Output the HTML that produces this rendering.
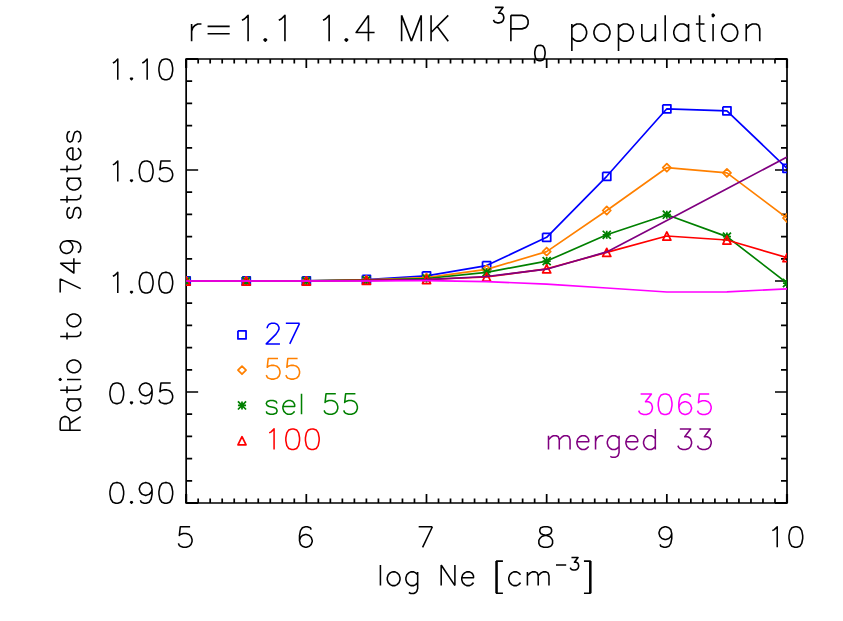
<!DOCTYPE html>
<html><head><meta charset="utf-8"><title>plot</title>
<style>html,body{margin:0;padding:0;background:#fff;font-family:"Liberation Sans",sans-serif;}svg{display:block}</style>
</head><body>
<svg width="843" height="621" viewBox="0 0 843 621" fill="none" stroke-linecap="butt" stroke-linejoin="round">
<rect x="0" y="0" width="843" height="621" fill="#fff" stroke="none"/>
<path d="M186.15 59 H787 V503 H186.15 Z M186.15 503 v-8.9 M186.15 59 v8.9 M198.17 503 v-4.45 M198.17 59 v4.45 M210.18 503 v-4.45 M210.18 59 v4.45 M222.2 503 v-4.45 M222.2 59 v4.45 M234.22 503 v-4.45 M234.22 59 v4.45 M246.24 503 v-4.45 M246.24 59 v4.45 M258.25 503 v-4.45 M258.25 59 v4.45 M270.27 503 v-4.45 M270.27 59 v4.45 M282.29 503 v-4.45 M282.29 59 v4.45 M294.3 503 v-4.45 M294.3 59 v4.45 M306.32 503 v-8.9 M306.32 59 v8.9 M318.34 503 v-4.45 M318.34 59 v4.45 M330.35 503 v-4.45 M330.35 59 v4.45 M342.37 503 v-4.45 M342.37 59 v4.45 M354.39 503 v-4.45 M354.39 59 v4.45 M366.4 503 v-4.45 M366.4 59 v4.45 M378.42 503 v-4.45 M378.42 59 v4.45 M390.44 503 v-4.45 M390.44 59 v4.45 M402.46 503 v-4.45 M402.46 59 v4.45 M414.47 503 v-4.45 M414.47 59 v4.45 M426.49 503 v-8.9 M426.49 59 v8.9 M438.51 503 v-4.45 M438.51 59 v4.45 M450.52 503 v-4.45 M450.52 59 v4.45 M462.54 503 v-4.45 M462.54 59 v4.45 M474.56 503 v-4.45 M474.56 59 v4.45 M486.58 503 v-4.45 M486.58 59 v4.45 M498.59 503 v-4.45 M498.59 59 v4.45 M510.61 503 v-4.45 M510.61 59 v4.45 M522.63 503 v-4.45 M522.63 59 v4.45 M534.64 503 v-4.45 M534.64 59 v4.45 M546.66 503 v-8.9 M546.66 59 v8.9 M558.68 503 v-4.45 M558.68 59 v4.45 M570.69 503 v-4.45 M570.69 59 v4.45 M582.71 503 v-4.45 M582.71 59 v4.45 M594.73 503 v-4.45 M594.73 59 v4.45 M606.75 503 v-4.45 M606.75 59 v4.45 M618.76 503 v-4.45 M618.76 59 v4.45 M630.78 503 v-4.45 M630.78 59 v4.45 M642.8 503 v-4.45 M642.8 59 v4.45 M654.81 503 v-4.45 M654.81 59 v4.45 M666.83 503 v-8.9 M666.83 59 v8.9 M678.85 503 v-4.45 M678.85 59 v4.45 M690.86 503 v-4.45 M690.86 59 v4.45 M702.88 503 v-4.45 M702.88 59 v4.45 M714.9 503 v-4.45 M714.9 59 v4.45 M726.91 503 v-4.45 M726.91 59 v4.45 M738.93 503 v-4.45 M738.93 59 v4.45 M750.95 503 v-4.45 M750.95 59 v4.45 M762.97 503 v-4.45 M762.97 59 v4.45 M774.98 503 v-4.45 M774.98 59 v4.45 M787 503 v-8.9 M787 59 v8.9 M186.15 503 h12 M787 503 h-12 M186.15 480.8 h6 M787 480.8 h-6 M186.15 458.6 h6 M787 458.6 h-6 M186.15 436.4 h6 M787 436.4 h-6 M186.15 414.2 h6 M787 414.2 h-6 M186.15 392 h12 M787 392 h-12 M186.15 369.8 h6 M787 369.8 h-6 M186.15 347.6 h6 M787 347.6 h-6 M186.15 325.4 h6 M787 325.4 h-6 M186.15 303.2 h6 M787 303.2 h-6 M186.15 281 h12 M787 281 h-12 M186.15 258.8 h6 M787 258.8 h-6 M186.15 236.6 h6 M787 236.6 h-6 M186.15 214.4 h6 M787 214.4 h-6 M186.15 192.2 h6 M787 192.2 h-6 M186.15 170 h12 M787 170 h-12 M186.15 147.8 h6 M787 147.8 h-6 M186.15 125.6 h6 M787 125.6 h-6 M186.15 103.4 h6 M787 103.4 h-6 M186.15 81.2 h6 M787 81.2 h-6 M186.15 59 h12 M787 59 h-12" stroke="#000" stroke-width="1.72" stroke-linejoin="miter"/>
<path d="M186.15 503 v-8.9 M186.15 59 v8.9 M787 503 v-8.9 M787 59 v8.9 M186.15 59 h12 M787 59 h-12 M186.15 503 h12 M787 503 h-12" stroke="#000" stroke-width="2.17"/>
<clipPath id="c"><rect x="186.15" y="59" width="600.85" height="444"/></clipPath>
<g clip-path="url(#c)">
<polyline points="186.15,281 246.24,281 306.32,280.8 366.41,279.5 426.49,275.8 486.58,265.6 546.66,237.3 606.75,176.3 666.83,108.8 726.92,110.8 787,168.3" stroke="#0000ff" stroke-width="1.68"/>
<path d="M182.1 276.95 H190.2 V285.05 H182.1 V276.95 M242.19 276.95 H250.29 V285.05 H242.19 V276.95 M302.27 276.75 H310.37 V284.85 H302.27 V276.75 M362.36 275.45 H370.46 V283.55 H362.36 V275.45 M422.44 271.75 H430.54 V279.85 H422.44 V271.75 M482.53 261.55 H490.63 V269.65 H482.53 V261.55 M542.61 233.25 H550.71 V241.35 H542.61 V233.25 M602.7 172.25 H610.79 V180.35 H602.7 V172.25 M662.78 104.75 H670.88 V112.85 H662.78 V104.75 M722.87 106.75 H730.97 V114.85 H722.87 V106.75 M782.95 164.25 H791.05 V172.35 H782.95 V164.25" stroke="#0000ff" stroke-width="1.75"/>
<polyline points="186.15,281 246.24,281 306.32,280.9 366.41,279.9 426.49,277.6 486.58,269.4 546.66,251.6 606.75,210.5 666.83,167.7 726.92,172.9 787,218" stroke="#ff8000" stroke-width="1.68"/>
<path d="M182.1 281 L186.15 276.95 L190.2 281 L186.15 285.05 Z M242.19 281 L246.24 276.95 L250.29 281 L246.24 285.05 Z M302.27 280.9 L306.32 276.85 L310.37 280.9 L306.32 284.95 Z M362.36 279.9 L366.41 275.85 L370.46 279.9 L366.41 283.95 Z M422.44 277.6 L426.49 273.55 L430.54 277.6 L426.49 281.65 Z M482.53 269.4 L486.58 265.35 L490.63 269.4 L486.58 273.45 Z M542.61 251.6 L546.66 247.55 L550.71 251.6 L546.66 255.65 Z M602.7 210.5 L606.75 206.45 L610.79 210.5 L606.75 214.55 Z M662.78 167.7 L666.83 163.65 L670.88 167.7 L666.83 171.75 Z M722.87 172.9 L726.92 168.85 L730.97 172.9 L726.92 176.95 Z M782.95 218 L787 213.95 L791.05 218 L787 222.05 Z" stroke="#ff8000" stroke-width="1.75"/>
<polyline points="186.15,281 246.24,281 306.32,280.9 366.41,280.1 426.49,278.5 486.58,272.3 546.66,261.1 606.75,234.8 666.83,214.7 726.92,236.6 787,283" stroke="#008000" stroke-width="1.68"/>
<path d="M182.1 281 H190.2 M186.15 276.95 V285.05 M182.1 276.95 L190.2 285.05 M182.1 285.05 L190.2 276.95 M242.19 281 H250.29 M246.24 276.95 V285.05 M242.19 276.95 L250.29 285.05 M242.19 285.05 L250.29 276.95 M302.27 280.9 H310.37 M306.32 276.85 V284.95 M302.27 276.85 L310.37 284.95 M302.27 284.95 L310.37 276.85 M362.36 280.1 H370.46 M366.41 276.05 V284.15 M362.36 276.05 L370.46 284.15 M362.36 284.15 L370.46 276.05 M422.44 278.5 H430.54 M426.49 274.45 V282.55 M422.44 274.45 L430.54 282.55 M422.44 282.55 L430.54 274.45 M482.53 272.3 H490.63 M486.58 268.25 V276.35 M482.53 268.25 L490.63 276.35 M482.53 276.35 L490.63 268.25 M542.61 261.1 H550.71 M546.66 257.05 V265.15 M542.61 257.05 L550.71 265.15 M542.61 265.15 L550.71 257.05 M602.7 234.8 H610.79 M606.75 230.75 V238.85 M602.7 230.75 L610.79 238.85 M602.7 238.85 L610.79 230.75 M662.78 214.7 H670.88 M666.83 210.65 V218.75 M662.78 210.65 L670.88 218.75 M662.78 218.75 L670.88 210.65 M722.87 236.6 H730.97 M726.92 232.55 V240.65 M722.87 232.55 L730.97 240.65 M722.87 240.65 L730.97 232.55 M782.95 283 H791.05 M787 278.95 V287.05 M782.95 278.95 L791.05 287.05 M782.95 287.05 L791.05 278.95" stroke="#008000" stroke-width="1.75"/>
<polyline points="186.15,281 246.24,281 306.32,281 366.41,280.4 426.49,279.5 486.58,277 546.66,268.8 606.75,252.4 666.83,236 726.92,240 787,257.6" stroke="#ff0000" stroke-width="1.68"/>
<path d="M182.1 285.05 L186.15 276.95 L190.2 285.05 Z M242.19 285.05 L246.24 276.95 L250.29 285.05 Z M302.27 285.05 L306.32 276.95 L310.37 285.05 Z M362.36 284.45 L366.41 276.35 L370.46 284.45 Z M422.44 283.55 L426.49 275.45 L430.54 283.55 Z M482.53 281.05 L486.58 272.95 L490.63 281.05 Z M542.61 272.85 L546.66 264.75 L550.71 272.85 Z M602.7 256.45 L606.75 248.35 L610.79 256.45 Z M662.78 240.05 L666.83 231.95 L670.88 240.05 Z M722.87 244.05 L726.92 235.95 L730.97 244.05 Z M782.95 261.65 L787 253.55 L791.05 261.65 Z" stroke="#ff0000" stroke-width="1.75"/>
<polyline points="186.15,281 246.24,281 306.32,281 366.41,280.6 426.49,279.6 486.58,276.5 546.66,269.2 606.75,251.9 666.83,220.6 726.92,188.8 787,157" stroke="#800080" stroke-width="1.68"/>
<polyline points="186.15,281 246.24,281 306.32,281 366.41,281 426.49,280.7 486.58,281.6 546.66,284.1 606.75,288 666.83,292 726.92,291.8 787,288.9" stroke="#ff00ff" stroke-width="1.68"/>
</g>
<path d="M267.22 328.22 L267.22 327.24 L268.2 325.28 L269.18 324.3 L271.14 323.32 L275.06 323.32 L277.02 324.3 L278 325.28 L278.98 327.24 L278.98 329.2 L278 331.16 L276.04 334.1 L266.24 343.9 L279.96 343.9 M299.56 323.32 L289.76 343.9 M285.84 323.32 L299.56 323.32" stroke="#0000ff" stroke-width="1.55"/>
<path d="M237.95 330.8 H246.05 V338.9 H237.95 V330.8" stroke="#0000ff" stroke-width="1.75"/>
<path d="M278 358.52 L268.2 358.52 L267.22 367.34 L268.2 366.36 L271.14 365.38 L274.08 365.38 L277.02 366.36 L278.98 368.32 L279.96 371.26 L279.96 373.22 L278.98 376.16 L277.02 378.12 L274.08 379.1 L271.14 379.1 L268.2 378.12 L267.22 377.14 L266.24 375.18 M297.6 358.52 L287.8 358.52 L286.82 367.34 L287.8 366.36 L290.74 365.38 L293.68 365.38 L296.62 366.36 L298.58 368.32 L299.56 371.26 L299.56 373.22 L298.58 376.16 L296.62 378.12 L293.68 379.1 L290.74 379.1 L287.8 378.12 L286.82 377.14 L285.84 375.18" stroke="#ff8000" stroke-width="1.55"/>
<path d="M237.95 370.15 L242 366.1 L246.05 370.15 L242 374.2 Z" stroke="#ff8000" stroke-width="1.75"/>
<path d="M277.02 403.52 L276.04 401.56 L273.1 400.58 L270.16 400.58 L267.22 401.56 L266.24 403.52 L267.22 405.48 L269.18 406.46 L274.08 407.44 L276.04 408.42 L277.02 410.38 L277.02 411.36 L276.04 413.32 L273.1 414.3 L270.16 414.3 L267.22 413.32 L266.24 411.36 M282.9 406.46 L294.66 406.46 L294.66 404.5 L293.68 402.54 L292.7 401.56 L290.74 400.58 L287.8 400.58 L285.84 401.56 L283.88 403.52 L282.9 406.46 L282.9 408.42 L283.88 411.36 L285.84 413.32 L287.8 414.3 L290.74 414.3 L292.7 413.32 L294.66 411.36 M301.52 393.72 L301.52 414.3 M335.82 393.72 L326.02 393.72 L325.04 402.54 L326.02 401.56 L328.96 400.58 L331.9 400.58 L334.84 401.56 L336.8 403.52 L337.78 406.46 L337.78 408.42 L336.8 411.36 L334.84 413.32 L331.9 414.3 L328.96 414.3 L326.02 413.32 L325.04 412.34 L324.06 410.38 M355.42 393.72 L345.62 393.72 L344.64 402.54 L345.62 401.56 L348.56 400.58 L351.5 400.58 L354.44 401.56 L356.4 403.52 L357.38 406.46 L357.38 408.42 L356.4 411.36 L354.44 413.32 L351.5 414.3 L348.56 414.3 L345.62 413.32 L344.64 412.34 L343.66 410.38" stroke="#008000" stroke-width="1.55"/>
<path d="M237.95 405.45 H246.05 M242 401.4 V409.5 M237.95 401.4 L246.05 409.5 M237.95 409.5 L246.05 401.4" stroke="#008000" stroke-width="1.75"/>
<path d="M269.18 432.84 L271.14 431.86 L274.08 428.92 L274.08 449.5 M291.72 428.92 L288.78 429.9 L286.82 432.84 L285.84 437.74 L285.84 440.68 L286.82 445.58 L288.78 448.52 L291.72 449.5 L293.68 449.5 L296.62 448.52 L298.58 445.58 L299.56 440.68 L299.56 437.74 L298.58 432.84 L296.62 429.9 L293.68 428.92 L291.72 428.92 M311.32 428.92 L308.38 429.9 L306.42 432.84 L305.44 437.74 L305.44 440.68 L306.42 445.58 L308.38 448.52 L311.32 449.5 L313.28 449.5 L316.22 448.52 L318.18 445.58 L319.16 440.68 L319.16 437.74 L318.18 432.84 L316.22 429.9 L313.28 428.92 L311.32 428.92" stroke="#ff0000" stroke-width="1.55"/>
<path d="M237.95 444.8 L242 436.7 L246.05 444.8 Z" stroke="#ff0000" stroke-width="1.75"/>
<path d="M640.62 393.92 L651.4 393.92 L645.52 401.76 L648.46 401.76 L650.42 402.74 L651.4 403.72 L652.38 406.66 L652.38 408.62 L651.4 411.56 L649.44 413.52 L646.5 414.5 L643.56 414.5 L640.62 413.52 L639.64 412.54 L638.66 410.58 M664.14 393.92 L661.2 394.9 L659.24 397.84 L658.26 402.74 L658.26 405.68 L659.24 410.58 L661.2 413.52 L664.14 414.5 L666.1 414.5 L669.04 413.52 L671 410.58 L671.98 405.68 L671.98 402.74 L671 397.84 L669.04 394.9 L666.1 393.92 L664.14 393.92 M690.6 396.86 L689.62 394.9 L686.68 393.92 L684.72 393.92 L681.78 394.9 L679.82 397.84 L678.84 402.74 L678.84 407.64 L679.82 411.56 L681.78 413.52 L684.72 414.5 L685.7 414.5 L688.64 413.52 L690.6 411.56 L691.58 408.62 L691.58 407.64 L690.6 404.7 L688.64 402.74 L685.7 401.76 L684.72 401.76 L681.78 402.74 L679.82 404.7 L678.84 407.64 M709.22 393.92 L699.42 393.92 L698.44 402.74 L699.42 401.76 L702.36 400.78 L705.3 400.78 L708.24 401.76 L710.2 403.72 L711.18 406.66 L711.18 408.62 L710.2 411.56 L708.24 413.52 L705.3 414.5 L702.36 414.5 L699.42 413.52 L698.44 412.54 L697.46 410.58" stroke="#ff00ff" stroke-width="1.55"/>
<path d="M548.5 435.78 L548.5 449.5 M548.5 439.7 L551.44 436.76 L553.4 435.78 L556.34 435.78 L558.3 436.76 L559.28 439.7 L559.28 449.5 M559.28 439.7 L562.22 436.76 L564.18 435.78 L567.12 435.78 L569.08 436.76 L570.06 439.7 L570.06 449.5 M576.92 441.66 L588.68 441.66 L588.68 439.7 L587.7 437.74 L586.72 436.76 L584.76 435.78 L581.82 435.78 L579.86 436.76 L577.9 438.72 L576.92 441.66 L576.92 443.62 L577.9 446.56 L579.86 448.52 L581.82 449.5 L584.76 449.5 L586.72 448.52 L588.68 446.56 M595.54 435.78 L595.54 449.5 M595.54 441.66 L596.52 438.72 L598.48 436.76 L600.44 435.78 L603.38 435.78 M619.06 435.78 L619.06 452.44 L618.08 455.38 L617.1 456.36 L615.14 457.34 L612.2 457.34 L610.24 456.36 M619.06 438.72 L617.1 436.76 L615.14 435.78 L612.2 435.78 L610.24 436.76 L608.28 438.72 L607.3 441.66 L607.3 443.62 L608.28 446.56 L610.24 448.52 L612.2 449.5 L615.14 449.5 L617.1 448.52 L619.06 446.56 M625.92 441.66 L637.68 441.66 L637.68 439.7 L636.7 437.74 L635.72 436.76 L633.76 435.78 L630.82 435.78 L628.86 436.76 L626.9 438.72 L625.92 441.66 L625.92 443.62 L626.9 446.56 L628.86 448.52 L630.82 449.5 L633.76 449.5 L635.72 448.52 L637.68 446.56 M655.32 428.92 L655.32 449.5 M655.32 438.72 L653.36 436.76 L651.4 435.78 L648.46 435.78 L646.5 436.76 L644.54 438.72 L643.56 441.66 L643.56 443.62 L644.54 446.56 L646.5 448.52 L648.46 449.5 L651.4 449.5 L653.36 448.52 L655.32 446.56 M679.82 428.92 L690.6 428.92 L684.72 436.76 L687.66 436.76 L689.62 437.74 L690.6 438.72 L691.58 441.66 L691.58 443.62 L690.6 446.56 L688.64 448.52 L685.7 449.5 L682.76 449.5 L679.82 448.52 L678.84 447.54 L677.86 445.58 M699.42 428.92 L710.2 428.92 L704.32 436.76 L707.26 436.76 L709.22 437.74 L710.2 438.72 L711.18 441.66 L711.18 443.62 L710.2 446.56 L708.24 448.52 L705.3 449.5 L702.36 449.5 L699.42 448.52 L698.44 447.54 L697.46 445.58" stroke="#800080" stroke-width="1.55"/>
<path d="M112.88 62.99 L114.84 62.01 L117.78 59.07 L117.78 79.65 M131.5 77.69 L130.52 78.67 L131.5 79.65 L132.48 78.67 L131.5 77.69 M142.28 62.99 L144.24 62.01 L147.18 59.07 L147.18 79.65 M164.82 59.07 L161.88 60.05 L159.92 62.99 L158.94 67.89 L158.94 70.83 L159.92 75.73 L161.88 78.67 L164.82 79.65 L166.78 79.65 L169.72 78.67 L171.68 75.73 L172.66 70.83 L172.66 67.89 L171.68 62.99 L169.72 60.05 L166.78 59.07 L164.82 59.07" stroke="#000" stroke-width="1.55"/>
<path d="M112.88 164.89 L114.84 163.91 L117.78 160.97 L117.78 181.55 M131.5 179.59 L130.52 180.57 L131.5 181.55 L132.48 180.57 L131.5 179.59 M145.22 160.97 L142.28 161.95 L140.32 164.89 L139.34 169.79 L139.34 172.73 L140.32 177.63 L142.28 180.57 L145.22 181.55 L147.18 181.55 L150.12 180.57 L152.08 177.63 L153.06 172.73 L153.06 169.79 L152.08 164.89 L150.12 161.95 L147.18 160.97 L145.22 160.97 M170.7 160.97 L160.9 160.97 L159.92 169.79 L160.9 168.81 L163.84 167.83 L166.78 167.83 L169.72 168.81 L171.68 170.77 L172.66 173.71 L172.66 175.67 L171.68 178.61 L169.72 180.57 L166.78 181.55 L163.84 181.55 L160.9 180.57 L159.92 179.59 L158.94 177.63" stroke="#000" stroke-width="1.55"/>
<path d="M112.88 276.29 L114.84 275.31 L117.78 272.37 L117.78 292.95 M131.5 290.99 L130.52 291.97 L131.5 292.95 L132.48 291.97 L131.5 290.99 M145.22 272.37 L142.28 273.35 L140.32 276.29 L139.34 281.19 L139.34 284.13 L140.32 289.03 L142.28 291.97 L145.22 292.95 L147.18 292.95 L150.12 291.97 L152.08 289.03 L153.06 284.13 L153.06 281.19 L152.08 276.29 L150.12 273.35 L147.18 272.37 L145.22 272.37 M164.82 272.37 L161.88 273.35 L159.92 276.29 L158.94 281.19 L158.94 284.13 L159.92 289.03 L161.88 291.97 L164.82 292.95 L166.78 292.95 L169.72 291.97 L171.68 289.03 L172.66 284.13 L172.66 281.19 L171.68 276.29 L169.72 273.35 L166.78 272.37 L164.82 272.37" stroke="#000" stroke-width="1.55"/>
<path d="M115.82 383.02 L112.88 384 L110.92 386.94 L109.94 391.84 L109.94 394.78 L110.92 399.68 L112.88 402.62 L115.82 403.6 L117.78 403.6 L120.72 402.62 L122.68 399.68 L123.66 394.78 L123.66 391.84 L122.68 386.94 L120.72 384 L117.78 383.02 L115.82 383.02 M131.5 401.64 L130.52 402.62 L131.5 403.6 L132.48 402.62 L131.5 401.64 M152.08 389.88 L151.1 392.82 L149.14 394.78 L146.2 395.76 L145.22 395.76 L142.28 394.78 L140.32 392.82 L139.34 389.88 L139.34 388.9 L140.32 385.96 L142.28 384 L145.22 383.02 L146.2 383.02 L149.14 384 L151.1 385.96 L152.08 389.88 L152.08 394.78 L151.1 399.68 L149.14 402.62 L146.2 403.6 L144.24 403.6 L141.3 402.62 L140.32 400.66 M170.7 383.02 L160.9 383.02 L159.92 391.84 L160.9 390.86 L163.84 389.88 L166.78 389.88 L169.72 390.86 L171.68 392.82 L172.66 395.76 L172.66 397.72 L171.68 400.66 L169.72 402.62 L166.78 403.6 L163.84 403.6 L160.9 402.62 L159.92 401.64 L158.94 399.68" stroke="#000" stroke-width="1.55"/>
<path d="M115.82 482.62 L112.88 483.6 L110.92 486.54 L109.94 491.44 L109.94 494.38 L110.92 499.28 L112.88 502.22 L115.82 503.2 L117.78 503.2 L120.72 502.22 L122.68 499.28 L123.66 494.38 L123.66 491.44 L122.68 486.54 L120.72 483.6 L117.78 482.62 L115.82 482.62 M131.5 501.24 L130.52 502.22 L131.5 503.2 L132.48 502.22 L131.5 501.24 M152.08 489.48 L151.1 492.42 L149.14 494.38 L146.2 495.36 L145.22 495.36 L142.28 494.38 L140.32 492.42 L139.34 489.48 L139.34 488.5 L140.32 485.56 L142.28 483.6 L145.22 482.62 L146.2 482.62 L149.14 483.6 L151.1 485.56 L152.08 489.48 L152.08 494.38 L151.1 499.28 L149.14 502.22 L146.2 503.2 L144.24 503.2 L141.3 502.22 L140.32 500.26 M164.82 482.62 L161.88 483.6 L159.92 486.54 L158.94 491.44 L158.94 494.38 L159.92 499.28 L161.88 502.22 L164.82 503.2 L166.78 503.2 L169.72 502.22 L171.68 499.28 L172.66 494.38 L172.66 491.44 L171.68 486.54 L169.72 483.6 L166.78 482.62 L164.82 482.62" stroke="#000" stroke-width="1.55"/>
<path d="M190.1 526.72 L180.3 526.72 L179.32 535.54 L180.3 534.56 L183.24 533.58 L186.18 533.58 L189.12 534.56 L191.08 536.52 L192.06 539.46 L192.06 541.42 L191.08 544.36 L189.12 546.32 L186.18 547.3 L183.24 547.3 L180.3 546.32 L179.32 545.34 L178.34 543.38" stroke="#000" stroke-width="1.55"/>
<path d="M311.25 529.66 L310.27 527.7 L307.33 526.72 L305.37 526.72 L302.43 527.7 L300.47 530.64 L299.49 535.54 L299.49 540.44 L300.47 544.36 L302.43 546.32 L305.37 547.3 L306.35 547.3 L309.29 546.32 L311.25 544.36 L312.23 541.42 L312.23 540.44 L311.25 537.5 L309.29 535.54 L306.35 534.56 L305.37 534.56 L302.43 535.54 L300.47 537.5 L299.49 540.44" stroke="#000" stroke-width="1.55"/>
<path d="M432.4 526.72 L422.6 547.3 M418.68 526.72 L432.4 526.72" stroke="#000" stroke-width="1.55"/>
<path d="M543.75 526.72 L540.81 527.7 L539.83 529.66 L539.83 531.62 L540.81 533.58 L542.77 534.56 L546.69 535.54 L549.63 536.52 L551.59 538.48 L552.57 540.44 L552.57 543.38 L551.59 545.34 L550.61 546.32 L547.67 547.3 L543.75 547.3 L540.81 546.32 L539.83 545.34 L538.85 543.38 L538.85 540.44 L539.83 538.48 L541.79 536.52 L544.73 535.54 L548.65 534.56 L550.61 533.58 L551.59 531.62 L551.59 529.66 L550.61 527.7 L547.67 526.72 L543.75 526.72" stroke="#000" stroke-width="1.55"/>
<path d="M671.76 533.58 L670.78 536.52 L668.82 538.48 L665.88 539.46 L664.9 539.46 L661.96 538.48 L660 536.52 L659.02 533.58 L659.02 532.6 L660 529.66 L661.96 527.7 L664.9 526.72 L665.88 526.72 L668.82 527.7 L670.78 529.66 L671.76 533.58 L671.76 538.48 L670.78 543.38 L668.82 546.32 L665.88 547.3 L663.92 547.3 L660.98 546.32 L660 544.36" stroke="#000" stroke-width="1.55"/>
<path d="M772.33 530.64 L774.29 529.66 L777.23 526.72 L777.23 547.3 M794.87 526.72 L791.93 527.7 L789.97 530.64 L788.99 535.54 L788.99 538.48 L789.97 543.38 L791.93 546.32 L794.87 547.3 L796.83 547.3 L799.77 546.32 L801.73 543.38 L802.71 538.48 L802.71 535.54 L801.73 530.64 L799.77 527.7 L796.83 526.72 L794.87 526.72" stroke="#000" stroke-width="1.55"/>
<path d="M380.42 565.02 L380.42 585.6 M392.18 571.88 L390.22 572.86 L388.26 574.82 L387.28 577.76 L387.28 579.72 L388.26 582.66 L390.22 584.62 L392.18 585.6 L395.12 585.6 L397.08 584.62 L399.04 582.66 L400.02 579.72 L400.02 577.76 L399.04 574.82 L397.08 572.86 L395.12 571.88 L392.18 571.88 M417.66 571.88 L417.66 588.54 L416.68 591.48 L415.7 592.46 L413.74 593.44 L410.8 593.44 L408.84 592.46 M417.66 574.82 L415.7 572.86 L413.74 571.88 L410.8 571.88 L408.84 572.86 L406.88 574.82 L405.9 577.76 L405.9 579.72 L406.88 582.66 L408.84 584.62 L410.8 585.6 L413.74 585.6 L415.7 584.62 L417.66 582.66 M441.18 565.02 L441.18 585.6 M441.18 565.02 L454.9 585.6 M454.9 565.02 L454.9 585.6 M461.76 577.76 L473.52 577.76 L473.52 575.8 L472.54 573.84 L471.56 572.86 L469.6 571.88 L466.66 571.88 L464.7 572.86 L462.74 574.82 L461.76 577.76 L461.76 579.72 L462.74 582.66 L464.7 584.62 L466.66 585.6 L469.6 585.6 L471.56 584.62 L473.52 582.66 M496.06 561.1 L496.06 593.15 M497.04 561.1 L497.04 593.15 M496.06 561.1 L502.92 561.1 M496.06 593.15 L502.92 593.15 M520.56 574.82 L518.6 572.86 L516.64 571.88 L513.7 571.88 L511.74 572.86 L509.78 574.82 L508.8 577.76 L508.8 579.72 L509.78 582.66 L511.74 584.62 L513.7 585.6 L516.64 585.6 L518.6 584.62 L520.56 582.66 M527.42 571.88 L527.42 585.6 M527.42 575.8 L530.36 572.86 L532.32 571.88 L535.26 571.88 L537.22 572.86 L538.2 575.8 L538.2 585.6 M538.2 575.8 L541.14 572.86 L543.1 571.88 L546.04 571.88 L548 572.86 L548.98 575.8 L548.98 585.6 M555.96 564.9 L566.19 564.9 M571.45 557.46 L578.03 557.46 L574.44 562.25 L576.23 562.25 L577.43 562.84 L578.03 563.44 L578.62 565.24 L578.62 566.43 L578.03 568.22 L576.83 569.42 L575.04 570.02 L573.24 570.02 L571.45 569.42 L570.85 568.82 L570.26 567.63 M589.83 561.1 L589.83 593.15 M590.81 561.1 L590.81 593.15 M583.95 561.1 L590.81 561.1 M583.95 593.15 L590.81 593.15" stroke="#000" stroke-width="1.55"/>
<path d="M60.18 430.29 L80.7 430.29 M60.18 430.29 L60.18 421.5 L61.16 418.57 L62.14 417.59 L64.09 416.61 L66.05 416.61 L68 417.59 L68.98 418.57 L69.95 421.5 L69.95 430.29 M69.95 423.45 L80.7 416.61 M67.02 399.03 L80.7 399.03 M69.95 399.03 L68 400.98 L67.02 402.94 L67.02 405.87 L68 407.82 L69.95 409.78 L72.88 410.75 L74.84 410.75 L77.77 409.78 L79.72 407.82 L80.7 405.87 L80.7 402.94 L79.72 400.98 L77.77 399.03 M60.18 390.24 L76.79 390.24 L79.72 389.26 L80.7 387.3 L80.7 385.35 M67.02 393.17 L67.02 386.33 M60.18 380.47 L61.16 379.49 L60.18 378.51 L59.21 379.49 L60.18 380.47 M67.02 379.49 L80.7 379.49 M67.02 367.76 L68 369.72 L69.95 371.67 L72.88 372.65 L74.84 372.65 L77.77 371.67 L79.72 369.72 L80.7 367.76 L80.7 364.83 L79.72 362.88 L77.77 360.93 L74.84 359.95 L72.88 359.95 L69.95 360.93 L68 362.88 L67.02 364.83 L67.02 367.76 M60.18 336.5 L76.79 336.5 L79.72 335.52 L80.7 333.57 L80.7 331.62 M67.02 339.43 L67.02 332.59 M67.02 321.85 L68 323.8 L69.95 325.75 L72.88 326.73 L74.84 326.73 L77.77 325.75 L79.72 323.8 L80.7 321.85 L80.7 318.91 L79.72 316.96 L77.77 315.01 L74.84 314.03 L72.88 314.03 L69.95 315.01 L68 316.96 L67.02 318.91 L67.02 321.85 M60.18 278.86 L80.7 288.63 M60.18 292.54 L60.18 278.86 M60.18 263.23 L73.86 273 L73.86 258.34 M60.18 263.23 L80.7 263.23 M67.02 240.75 L69.95 241.73 L71.91 243.69 L72.88 246.62 L72.88 247.59 L71.91 250.52 L69.95 252.48 L67.02 253.46 L66.05 253.46 L63.11 252.48 L61.16 250.52 L60.18 247.59 L60.18 246.62 L61.16 243.69 L63.11 241.73 L67.02 240.75 L71.91 240.75 L76.79 241.73 L79.72 243.69 L80.7 246.62 L80.7 248.57 L79.72 251.5 L77.77 252.48 M69.95 207.54 L68 208.51 L67.02 211.44 L67.02 214.38 L68 217.31 L69.95 218.28 L71.91 217.31 L72.88 215.35 L73.86 210.47 L74.84 208.51 L76.79 207.54 L77.77 207.54 L79.72 208.51 L80.7 211.44 L80.7 214.38 L79.72 217.31 L77.77 218.28 M60.18 199.72 L76.79 199.72 L79.72 198.74 L80.7 196.79 L80.7 194.84 M67.02 202.65 L67.02 195.81 M67.02 178.23 L80.7 178.23 M69.95 178.23 L68 180.18 L67.02 182.13 L67.02 185.07 L68 187.02 L69.95 188.97 L72.88 189.95 L74.84 189.95 L77.77 188.97 L79.72 187.02 L80.7 185.07 L80.7 182.13 L79.72 180.18 L77.77 178.23 M60.18 169.43 L76.79 169.43 L79.72 168.46 L80.7 166.5 L80.7 164.55 M67.02 172.36 L67.02 165.53 M72.88 159.66 L72.88 147.94 L70.93 147.94 L68.98 148.92 L68 149.89 L67.02 151.85 L67.02 154.78 L68 156.73 L69.95 158.69 L72.88 159.66 L74.84 159.66 L77.77 158.69 L79.72 156.73 L80.7 154.78 L80.7 151.85 L79.72 149.89 L77.77 147.94 M69.95 131.33 L68 132.31 L67.02 135.24 L67.02 138.17 L68 141.1 L69.95 142.08 L71.91 141.1 L72.88 139.15 L73.86 134.26 L74.84 132.31 L76.79 131.33 L77.77 131.33 L79.72 132.31 L80.7 135.24 L80.7 138.17 L79.72 141.1 L77.77 142.08" stroke="#000" stroke-width="1.55"/>
<path d="M191.61 23.96 L191.61 41.15 M191.61 31.33 L192.84 27.64 L195.3 25.19 L197.75 23.96 L201.44 23.96 M207.58 26.41 L229.68 26.41 M207.58 33.78 L229.68 33.78 M241.96 20.27 L244.42 19.05 L248.1 15.36 L248.1 41.15 M265.29 38.69 L264.06 39.92 L265.29 41.15 L266.52 39.92 L265.29 38.69 M278.8 20.27 L281.26 19.05 L284.94 15.36 L284.94 41.15 M323.01 20.27 L325.46 19.05 L329.15 15.36 L329.15 41.15 M346.34 38.69 L345.11 39.92 L346.34 41.15 L347.57 39.92 L346.34 38.69 M368.44 15.36 L356.16 32.55 L374.58 32.55 M368.44 15.36 L368.44 41.15 M401.6 15.36 L401.6 41.15 M401.6 15.36 L411.42 41.15 M421.25 15.36 L411.42 41.15 M421.25 15.36 L421.25 41.15 M431.07 15.36 L431.07 41.15 M448.26 15.36 L431.07 32.55 M437.21 26.41 L448.26 41.15 M494.93 7.38 L503.03 7.38 L498.61 13.27 L500.82 13.27 L502.3 14.01 L503.03 14.75 L503.77 16.96 L503.77 18.43 L503.03 20.64 L501.56 22.12 L499.35 22.85 L497.14 22.85 L494.93 22.12 L494.19 21.38 L493.45 19.91 M510.89 15.36 L510.89 41.15 M510.89 15.36 L521.94 15.36 L525.63 16.59 L526.86 17.82 L528.08 20.27 L528.08 23.96 L526.86 26.41 L525.63 27.64 L521.94 28.87 L510.89 28.87 M539.2 45.33 L536.99 46.06 L535.51 48.27 L534.78 51.96 L534.78 54.17 L535.51 57.85 L536.99 60.06 L539.2 60.8 L540.67 60.8 L542.88 60.06 L544.36 57.85 L545.09 54.17 L545.09 51.96 L544.36 48.27 L542.88 46.06 L540.67 45.33 L539.2 45.33 M571.86 23.96 L571.86 50.97 M571.86 27.64 L574.32 25.19 L576.77 23.96 L580.46 23.96 L582.91 25.19 L585.37 27.64 L586.6 31.33 L586.6 33.78 L585.37 37.47 L582.91 39.92 L580.46 41.15 L576.77 41.15 L574.32 39.92 L571.86 37.47 M600.11 23.96 L597.65 25.19 L595.19 27.64 L593.97 31.33 L593.97 33.78 L595.19 37.47 L597.65 39.92 L600.11 41.15 L603.79 41.15 L606.25 39.92 L608.7 37.47 L609.93 33.78 L609.93 31.33 L608.7 27.64 L606.25 25.19 L603.79 23.96 L600.11 23.96 M618.53 23.96 L618.53 50.97 M618.53 27.64 L620.98 25.19 L623.44 23.96 L627.12 23.96 L629.58 25.19 L632.03 27.64 L633.26 31.33 L633.26 33.78 L632.03 37.47 L629.58 39.92 L627.12 41.15 L623.44 41.15 L620.98 39.92 L618.53 37.47 M641.86 23.96 L641.86 36.24 L643.09 39.92 L645.54 41.15 L649.23 41.15 L651.68 39.92 L655.37 36.24 M655.37 23.96 L655.37 41.15 M665.19 15.36 L665.19 41.15 M688.52 23.96 L688.52 41.15 M688.52 27.64 L686.07 25.19 L683.61 23.96 L679.93 23.96 L677.47 25.19 L675.01 27.64 L673.79 31.33 L673.79 33.78 L675.01 37.47 L677.47 39.92 L679.93 41.15 L683.61 41.15 L686.07 39.92 L688.52 37.47 M699.57 15.36 L699.57 36.24 L700.8 39.92 L703.26 41.15 L705.71 41.15 M695.89 23.96 L704.49 23.96 M711.85 15.36 L713.08 16.59 L714.31 15.36 L713.08 14.13 L711.85 15.36 M713.08 23.96 L713.08 41.15 M727.82 23.96 L725.36 25.19 L722.91 27.64 L721.68 31.33 L721.68 33.78 L722.91 37.47 L725.36 39.92 L727.82 41.15 L731.5 41.15 L733.96 39.92 L736.41 37.47 L737.64 33.78 L737.64 31.33 L736.41 27.64 L733.96 25.19 L731.5 23.96 L727.82 23.96 M746.24 23.96 L746.24 41.15 M746.24 28.87 L749.92 25.19 L752.38 23.96 L756.06 23.96 L758.52 25.19 L759.75 28.87 L759.75 41.15" stroke="#000" stroke-width="1.62"/>
</svg>
</body></html>
